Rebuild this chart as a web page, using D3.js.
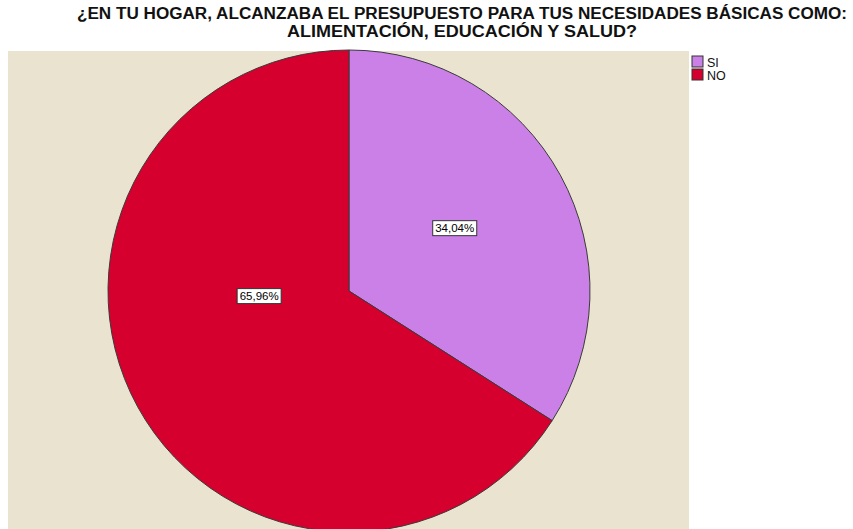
<!DOCTYPE html>
<html lang="es">
<head>
  <meta charset="utf-8">
  <title>Presupuesto hogar</title>
  <script src="https://cdn.jsdelivr.net/npm/d3@7"></script>
  <style>
    body { margin: 0; background: #fff; }
    text { font-family: "Liberation Sans", Arial, sans-serif; }
  </style>
</head>
<body>
<div id="chart"></div>
<script>
// datos
const categories = ["SI", "NO"];
const values = [34.04, 65.96];
const valueLabels = ["34,04%", "65,96%"];
const titleLines = [
  "¿EN TU HOGAR, ALCANZABA EL PRESUPUESTO PARA TUS NECESIDADES BÁSICAS COMO:",
  "ALIMENTACIÓN, EDUCACIÓN Y SALUD?"
];
const titleWidths = [770, 350];
const colors = ["#ca80e6", "#d5002e"];

const W = 853, H = 529;
const plot = {x: 8, y: 51, w: 681, h: 478};
const cx = 349, cy = 291, R = 241;

const svg = d3.select("#chart").append("svg")
  .attr("width", W).attr("height", H);

// titulo
svg.selectAll(".title")
  .data(titleLines)
  .enter().append("text")
  .attr("class", "title")
  .attr("x", 462)
  .attr("y", (d, i) => 18.5 + i * 18.5)
  .attr("text-anchor", "middle")
  .attr("font-size", 16)
  .attr("font-weight", "bold")
  .attr("fill", "#111")
  .attr("textLength", (d, i) => titleWidths[i])
  .attr("lengthAdjust", "spacingAndGlyphs")
  .text(d => d);

// fondo del grafico
svg.append("rect")
  .attr("x", plot.x).attr("y", plot.y)
  .attr("width", plot.w).attr("height", plot.h)
  .attr("fill", "#e9e3cf");

const color = d3.scaleOrdinal().domain(categories).range(colors);

const pie = d3.pie().sort(null).value(d => d.value);
const data = categories.map((c, i) => ({cat: c, value: values[i], label: valueLabels[i]}));
const arcs = pie(data);
const arc = d3.arc().innerRadius(0).outerRadius(R);

const g = svg.append("g").attr("transform", `translate(${cx},${cy})`);

g.selectAll("path")
  .data(arcs)
  .enter().append("path")
  .attr("d", arc)
  .attr("fill", d => color(d.data.cat))
  .attr("stroke", "#3a3a3a")
  .attr("stroke-width", 1);

// etiquetas (SPSS las desplaza un poco)
const labelR = [123, 90];
const labelShift = [-0.035, 0.445];
arcs.forEach((a, i) => {
  const ang = (a.startAngle + a.endAngle) / 2 + labelShift[i];
  const lx = Math.sin(ang) * labelR[i];
  const ly = -Math.cos(ang) * labelR[i];
  const lg = g.append("g").attr("transform", `translate(${lx},${ly})`);
  const t = lg.append("text")
    .attr("text-anchor", "middle")
    .attr("dy", "0.35em")
    .attr("font-size", 11.5)
    .attr("fill", "#000")
    .text(a.data.label);
  const bb = t.node().getBBox();
  lg.insert("rect", "text")
    .attr("x", bb.x - 2.5).attr("y", bb.y - 1.5)
    .attr("width", bb.width + 5).attr("height", bb.height + 3)
    .attr("fill", "#fff")
    .attr("stroke", "#333")
    .attr("stroke-width", 1);
});

// leyenda
const leg = svg.append("g").attr("transform", "translate(692,56)");
const items = leg.selectAll("g")
  .data(categories)
  .enter().append("g")
  .attr("transform", (d, i) => `translate(0,${i * 13})`);
items.append("rect")
  .attr("width", 11).attr("height", 11)
  .attr("fill", d => color(d))
  .attr("stroke", "#333");
items.append("text")
  .attr("x", 15).attr("y", 10.5)
  .attr("font-size", 12.5)
  .attr("fill", "#111")
  .text(d => d);
</script>
</body>
</html>
